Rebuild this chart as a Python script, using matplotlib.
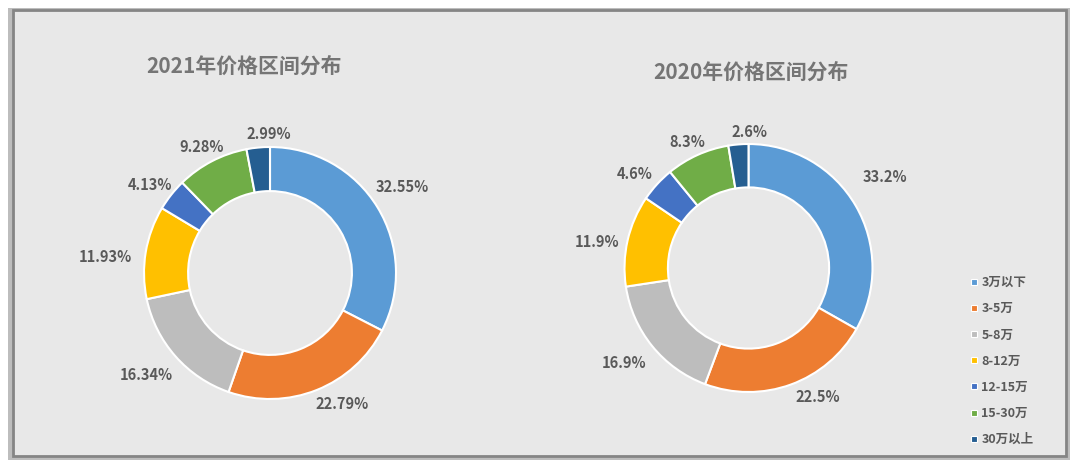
import matplotlib
matplotlib.use("Agg")
import matplotlib.pyplot as plt
from matplotlib.patches import Rectangle
from matplotlib.lines import Line2D

plt.rcParams['font.family'] = ['Noto Sans CJK SC', 'DejaVu Sans']

categories = ['3万以下', '3-5万', '5-8万', '8-12万', '12-15万', '15-30万', '30万以上']
share_2021 = [32.55, 22.79, 16.34, 11.93, 4.13, 9.28, 2.99]
share_2020 = [33.2, 22.5, 16.9, 11.9, 4.6, 8.3, 2.6]
labels_2021 = ['32.55%', '22.79%', '16.34%', '11.93%', '4.13%', '9.28%', '2.99%']
labels_2020 = ['33.2%', '22.5%', '16.9%', '11.9%', '4.6%', '8.3%', '2.6%']

colors = ['#5B9BD5', '#ED7D31', '#BDBDBD', '#FFC000', '#4472C4', '#70AD47', '#255E91']
text_gray = '#595959'
title_gray = '#757575'

# label placement (in units of the donut radius), Excel "best fit" style
pos_2021 = [(1.05, 0.68), (0.57, -1.04), (-0.98, -0.81), (-1.31, 0.13),
            (-0.95, 0.70), (-0.54, 1.00), (-0.01, 1.10)]
pos_2020 = [(1.10, 0.73), (0.56, -1.04), (-1.00, -0.77), (-1.22, 0.21),
            (-0.92, 0.76), (-0.49, 1.02), (0.01, 1.10)]

W, H = 1080, 465
fig = plt.figure(figsize=(W / 100, H / 100), dpi=100, facecolor='white')

# frame with a soft shadow, kept behind the axes
fig.patches.append(Rectangle((8 / W, 5 / H), 1062 / W, 452 / H, transform=fig.transFigure,
                             facecolor='#bdbdbd', edgecolor='none', zorder=-2))
fig.patches.append(Rectangle((13 / W, 9 / H), 1053 / W, 446 / H, transform=fig.transFigure,
                             facecolor='#e8e8e8', edgecolor='#858585', linewidth=2, zorder=-1))


def donut(cx, cy, r, values, labels, positions, title, tx, ty):
    size = 3 * r
    ax = fig.add_axes([(cx - size / 2) / W, (H - cy - size / 2) / H, size / W, size / H])
    ax.pie(values, colors=colors, startangle=90, counterclock=False, radius=1,
           wedgeprops=dict(width=0.35, edgecolor='white', linewidth=1.5))
    ax.set_xlim(-1.5, 1.5)
    ax.set_ylim(-1.5, 1.5)
    ax.set_aspect('equal')
    ax.axis('off')
    for lab, (px, py) in zip(labels, positions):
        ax.text(px, py, lab, ha='center', va='center', fontsize=10.5,
                fontweight='bold', color=text_gray)
    fig.text(tx / W, 1 - ty / H, title, ha='center', va='center', fontsize=15,
             fontweight='bold', color=title_gray)
    return ax


donut(270, 273, 126, share_2021, labels_2021, pos_2021, '2021年价格区间分布', 244, 66)
donut(748.5, 268, 124, share_2020, labels_2020, pos_2020, '2020年价格区间分布', 751, 72)

handles = [Line2D([], [], marker='s', linestyle='none', markersize=4.5,
                  markerfacecolor=c, markeredgecolor='white', markeredgewidth=0.8)
           for c in colors]
leg = fig.legend(handles, categories, loc='upper left',
                 bbox_to_anchor=(959 / W, 1 - 265 / H), frameon=False,
                 handlelength=0.6, handletextpad=0.3, labelspacing=1.05,
                 prop={'size': 9, 'weight': 'bold'})
for t in leg.get_texts():
    t.set_color(text_gray)

fig.savefig('out.png', dpi=100, facecolor='white')
